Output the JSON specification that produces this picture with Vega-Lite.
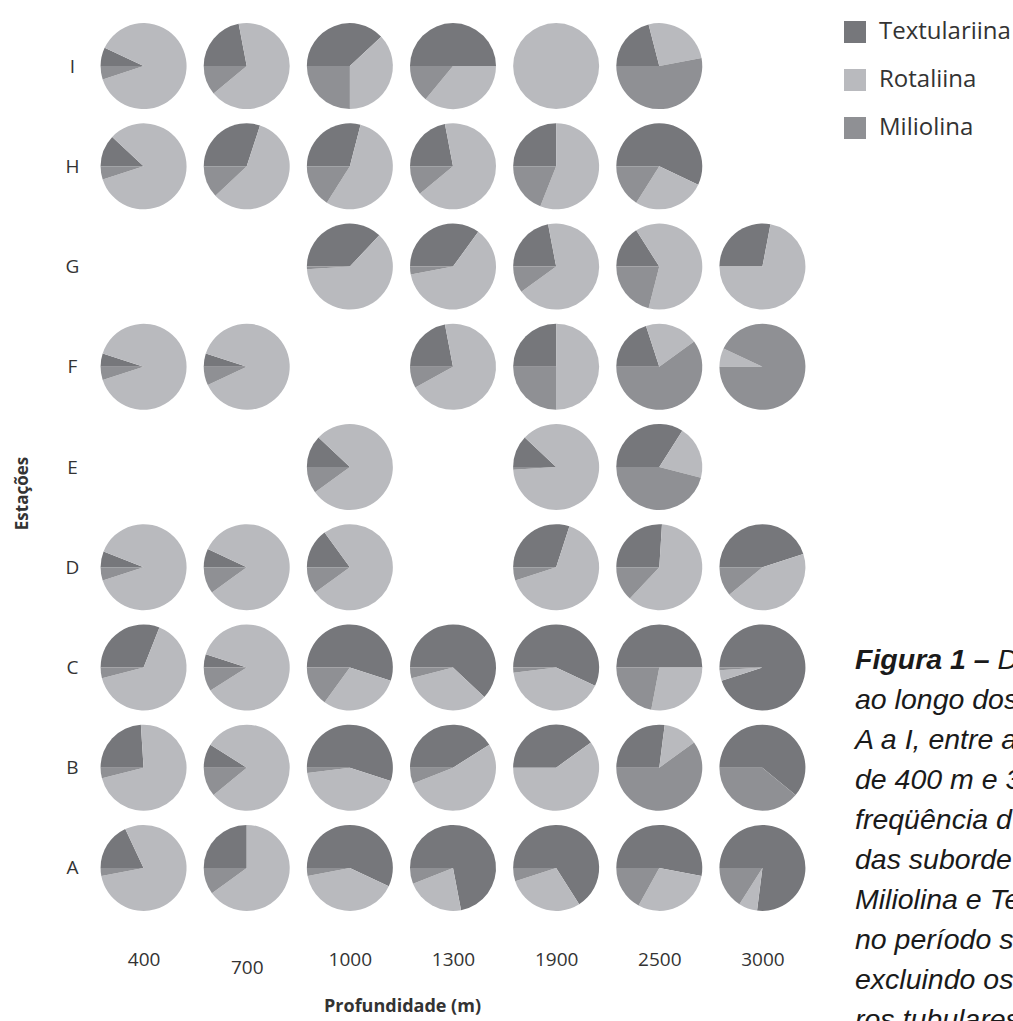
{
  "$schema": "https://vega.github.io/schema/vega-lite/v6.json",
  "autosize": {"type": "none"},
  "padding": {"left": 92, "top": 16, "right": 199, "bottom": 103},
  "width": 722,
  "height": 902,
  "background": "white",
  "config": {"view": {"stroke": null}},
  "title": {
    "text": "Figura 1 –",
    "subtitle": ["\u200b\u00a0\u00a0\u00a0\u00a0\u00a0\u00a0\u00a0\u00a0\u00a0\u00a0\u00a0\u00a0\u00a0\u00a0\u00a0\u00a0\u00a0\u00a0D", "ao longo dos", "A a I, entre a", "de 400 m e 3", "freqüência d", "das suborde", "Miliolina e Te", "no período s", "excluindo os", "ros tubulares"],
    "orient": "top",
    "anchor": "start",
    "frame": "group",
    "dx": 763,
    "dy": 1022,
    "font": "Liberation Sans",
    "fontSize": 28.5,
    "fontStyle": "italic",
    "fontWeight": "bold",
    "color": "#1a1a1a",
    "subtitleFont": "Liberation Sans",
    "subtitleFontSize": 28.5,
    "subtitleFontStyle": "italic",
    "subtitleFontWeight": "normal",
    "subtitleColor": "#1a1a1a",
    "subtitleLineHeight": 40,
    "subtitlePadding": -28.5
  },
  "data": {"values": [
    {"estacao": "I", "profundidade": 400, "subordem": "Textulariina", "valor": 7},
    {"estacao": "I", "profundidade": 400, "subordem": "Rotaliina", "valor": 88},
    {"estacao": "I", "profundidade": 400, "subordem": "Miliolina", "valor": 5},
    {"estacao": "I", "profundidade": 700, "subordem": "Textulariina", "valor": 22},
    {"estacao": "I", "profundidade": 700, "subordem": "Rotaliina", "valor": 67},
    {"estacao": "I", "profundidade": 700, "subordem": "Miliolina", "valor": 11},
    {"estacao": "I", "profundidade": 1000, "subordem": "Textulariina", "valor": 38},
    {"estacao": "I", "profundidade": 1000, "subordem": "Rotaliina", "valor": 37},
    {"estacao": "I", "profundidade": 1000, "subordem": "Miliolina", "valor": 25},
    {"estacao": "I", "profundidade": 1300, "subordem": "Textulariina", "valor": 50},
    {"estacao": "I", "profundidade": 1300, "subordem": "Rotaliina", "valor": 36},
    {"estacao": "I", "profundidade": 1300, "subordem": "Miliolina", "valor": 14},
    {"estacao": "I", "profundidade": 1900, "subordem": "Rotaliina", "valor": 100},
    {"estacao": "I", "profundidade": 2500, "subordem": "Textulariina", "valor": 21},
    {"estacao": "I", "profundidade": 2500, "subordem": "Rotaliina", "valor": 26},
    {"estacao": "I", "profundidade": 2500, "subordem": "Miliolina", "valor": 53},

    {"estacao": "H", "profundidade": 400, "subordem": "Textulariina", "valor": 12},
    {"estacao": "H", "profundidade": 400, "subordem": "Rotaliina", "valor": 83},
    {"estacao": "H", "profundidade": 400, "subordem": "Miliolina", "valor": 5},
    {"estacao": "H", "profundidade": 700, "subordem": "Textulariina", "valor": 30},
    {"estacao": "H", "profundidade": 700, "subordem": "Rotaliina", "valor": 58},
    {"estacao": "H", "profundidade": 700, "subordem": "Miliolina", "valor": 12},
    {"estacao": "H", "profundidade": 1000, "subordem": "Textulariina", "valor": 29},
    {"estacao": "H", "profundidade": 1000, "subordem": "Rotaliina", "valor": 55},
    {"estacao": "H", "profundidade": 1000, "subordem": "Miliolina", "valor": 16},
    {"estacao": "H", "profundidade": 1300, "subordem": "Textulariina", "valor": 22},
    {"estacao": "H", "profundidade": 1300, "subordem": "Rotaliina", "valor": 67},
    {"estacao": "H", "profundidade": 1300, "subordem": "Miliolina", "valor": 11},
    {"estacao": "H", "profundidade": 1900, "subordem": "Textulariina", "valor": 25},
    {"estacao": "H", "profundidade": 1900, "subordem": "Rotaliina", "valor": 56},
    {"estacao": "H", "profundidade": 1900, "subordem": "Miliolina", "valor": 19},
    {"estacao": "H", "profundidade": 2500, "subordem": "Textulariina", "valor": 57},
    {"estacao": "H", "profundidade": 2500, "subordem": "Rotaliina", "valor": 27},
    {"estacao": "H", "profundidade": 2500, "subordem": "Miliolina", "valor": 16},

    {"estacao": "G", "profundidade": 1000, "subordem": "Textulariina", "valor": 37},
    {"estacao": "G", "profundidade": 1000, "subordem": "Rotaliina", "valor": 62},
    {"estacao": "G", "profundidade": 1000, "subordem": "Miliolina", "valor": 1},
    {"estacao": "G", "profundidade": 1300, "subordem": "Textulariina", "valor": 35},
    {"estacao": "G", "profundidade": 1300, "subordem": "Rotaliina", "valor": 62},
    {"estacao": "G", "profundidade": 1300, "subordem": "Miliolina", "valor": 3},
    {"estacao": "G", "profundidade": 1900, "subordem": "Textulariina", "valor": 22},
    {"estacao": "G", "profundidade": 1900, "subordem": "Rotaliina", "valor": 68},
    {"estacao": "G", "profundidade": 1900, "subordem": "Miliolina", "valor": 10},
    {"estacao": "G", "profundidade": 2500, "subordem": "Textulariina", "valor": 16},
    {"estacao": "G", "profundidade": 2500, "subordem": "Rotaliina", "valor": 63},
    {"estacao": "G", "profundidade": 2500, "subordem": "Miliolina", "valor": 21},
    {"estacao": "G", "profundidade": 3000, "subordem": "Textulariina", "valor": 28},
    {"estacao": "G", "profundidade": 3000, "subordem": "Rotaliina", "valor": 72},

    {"estacao": "F", "profundidade": 400, "subordem": "Textulariina", "valor": 5},
    {"estacao": "F", "profundidade": 400, "subordem": "Rotaliina", "valor": 90},
    {"estacao": "F", "profundidade": 400, "subordem": "Miliolina", "valor": 5},
    {"estacao": "F", "profundidade": 700, "subordem": "Textulariina", "valor": 5},
    {"estacao": "F", "profundidade": 700, "subordem": "Rotaliina", "valor": 88},
    {"estacao": "F", "profundidade": 700, "subordem": "Miliolina", "valor": 7},
    {"estacao": "F", "profundidade": 1300, "subordem": "Textulariina", "valor": 22},
    {"estacao": "F", "profundidade": 1300, "subordem": "Rotaliina", "valor": 70},
    {"estacao": "F", "profundidade": 1300, "subordem": "Miliolina", "valor": 8},
    {"estacao": "F", "profundidade": 1900, "subordem": "Textulariina", "valor": 25},
    {"estacao": "F", "profundidade": 1900, "subordem": "Rotaliina", "valor": 50},
    {"estacao": "F", "profundidade": 1900, "subordem": "Miliolina", "valor": 25},
    {"estacao": "F", "profundidade": 2500, "subordem": "Textulariina", "valor": 20},
    {"estacao": "F", "profundidade": 2500, "subordem": "Rotaliina", "valor": 20},
    {"estacao": "F", "profundidade": 2500, "subordem": "Miliolina", "valor": 60},
    {"estacao": "F", "profundidade": 3000, "subordem": "Rotaliina", "valor": 7},
    {"estacao": "F", "profundidade": 3000, "subordem": "Miliolina", "valor": 93},

    {"estacao": "E", "profundidade": 1000, "subordem": "Textulariina", "valor": 12},
    {"estacao": "E", "profundidade": 1000, "subordem": "Rotaliina", "valor": 78},
    {"estacao": "E", "profundidade": 1000, "subordem": "Miliolina", "valor": 10},
    {"estacao": "E", "profundidade": 1900, "subordem": "Textulariina", "valor": 12},
    {"estacao": "E", "profundidade": 1900, "subordem": "Rotaliina", "valor": 87},
    {"estacao": "E", "profundidade": 1900, "subordem": "Miliolina", "valor": 1},
    {"estacao": "E", "profundidade": 2500, "subordem": "Textulariina", "valor": 34},
    {"estacao": "E", "profundidade": 2500, "subordem": "Rotaliina", "valor": 20},
    {"estacao": "E", "profundidade": 2500, "subordem": "Miliolina", "valor": 46},

    {"estacao": "D", "profundidade": 400, "subordem": "Textulariina", "valor": 6},
    {"estacao": "D", "profundidade": 400, "subordem": "Rotaliina", "valor": 89},
    {"estacao": "D", "profundidade": 400, "subordem": "Miliolina", "valor": 5},
    {"estacao": "D", "profundidade": 700, "subordem": "Textulariina", "valor": 7},
    {"estacao": "D", "profundidade": 700, "subordem": "Rotaliina", "valor": 83},
    {"estacao": "D", "profundidade": 700, "subordem": "Miliolina", "valor": 10},
    {"estacao": "D", "profundidade": 1000, "subordem": "Textulariina", "valor": 15},
    {"estacao": "D", "profundidade": 1000, "subordem": "Rotaliina", "valor": 75},
    {"estacao": "D", "profundidade": 1000, "subordem": "Miliolina", "valor": 10},
    {"estacao": "D", "profundidade": 1900, "subordem": "Textulariina", "valor": 30},
    {"estacao": "D", "profundidade": 1900, "subordem": "Rotaliina", "valor": 65},
    {"estacao": "D", "profundidade": 1900, "subordem": "Miliolina", "valor": 5},
    {"estacao": "D", "profundidade": 2500, "subordem": "Textulariina", "valor": 26},
    {"estacao": "D", "profundidade": 2500, "subordem": "Rotaliina", "valor": 61},
    {"estacao": "D", "profundidade": 2500, "subordem": "Miliolina", "valor": 13},
    {"estacao": "D", "profundidade": 3000, "subordem": "Textulariina", "valor": 45},
    {"estacao": "D", "profundidade": 3000, "subordem": "Rotaliina", "valor": 44},
    {"estacao": "D", "profundidade": 3000, "subordem": "Miliolina", "valor": 11},

    {"estacao": "C", "profundidade": 400, "subordem": "Textulariina", "valor": 31},
    {"estacao": "C", "profundidade": 400, "subordem": "Rotaliina", "valor": 65},
    {"estacao": "C", "profundidade": 400, "subordem": "Miliolina", "valor": 4},
    {"estacao": "C", "profundidade": 700, "subordem": "Textulariina", "valor": 5},
    {"estacao": "C", "profundidade": 700, "subordem": "Rotaliina", "valor": 86},
    {"estacao": "C", "profundidade": 700, "subordem": "Miliolina", "valor": 9},
    {"estacao": "C", "profundidade": 1000, "subordem": "Textulariina", "valor": 55},
    {"estacao": "C", "profundidade": 1000, "subordem": "Rotaliina", "valor": 30},
    {"estacao": "C", "profundidade": 1000, "subordem": "Miliolina", "valor": 15},
    {"estacao": "C", "profundidade": 1300, "subordem": "Textulariina", "valor": 62},
    {"estacao": "C", "profundidade": 1300, "subordem": "Rotaliina", "valor": 34},
    {"estacao": "C", "profundidade": 1300, "subordem": "Miliolina", "valor": 4},
    {"estacao": "C", "profundidade": 1900, "subordem": "Textulariina", "valor": 57},
    {"estacao": "C", "profundidade": 1900, "subordem": "Rotaliina", "valor": 41},
    {"estacao": "C", "profundidade": 1900, "subordem": "Miliolina", "valor": 2},
    {"estacao": "C", "profundidade": 2500, "subordem": "Textulariina", "valor": 50},
    {"estacao": "C", "profundidade": 2500, "subordem": "Rotaliina", "valor": 28},
    {"estacao": "C", "profundidade": 2500, "subordem": "Miliolina", "valor": 22},
    {"estacao": "C", "profundidade": 3000, "subordem": "Textulariina", "valor": 95},
    {"estacao": "C", "profundidade": 3000, "subordem": "Rotaliina", "valor": 4},
    {"estacao": "C", "profundidade": 3000, "subordem": "Miliolina", "valor": 1},

    {"estacao": "B", "profundidade": 400, "subordem": "Textulariina", "valor": 24},
    {"estacao": "B", "profundidade": 400, "subordem": "Rotaliina", "valor": 72},
    {"estacao": "B", "profundidade": 400, "subordem": "Miliolina", "valor": 4},
    {"estacao": "B", "profundidade": 700, "subordem": "Textulariina", "valor": 9},
    {"estacao": "B", "profundidade": 700, "subordem": "Rotaliina", "valor": 80},
    {"estacao": "B", "profundidade": 700, "subordem": "Miliolina", "valor": 11},
    {"estacao": "B", "profundidade": 1000, "subordem": "Textulariina", "valor": 55},
    {"estacao": "B", "profundidade": 1000, "subordem": "Rotaliina", "valor": 43},
    {"estacao": "B", "profundidade": 1000, "subordem": "Miliolina", "valor": 2},
    {"estacao": "B", "profundidade": 1300, "subordem": "Textulariina", "valor": 41},
    {"estacao": "B", "profundidade": 1300, "subordem": "Rotaliina", "valor": 53},
    {"estacao": "B", "profundidade": 1300, "subordem": "Miliolina", "valor": 6},
    {"estacao": "B", "profundidade": 1900, "subordem": "Textulariina", "valor": 40},
    {"estacao": "B", "profundidade": 1900, "subordem": "Rotaliina", "valor": 60},
    {"estacao": "B", "profundidade": 2500, "subordem": "Textulariina", "valor": 27},
    {"estacao": "B", "profundidade": 2500, "subordem": "Rotaliina", "valor": 13},
    {"estacao": "B", "profundidade": 2500, "subordem": "Miliolina", "valor": 60},
    {"estacao": "B", "profundidade": 3000, "subordem": "Textulariina", "valor": 61},
    {"estacao": "B", "profundidade": 3000, "subordem": "Miliolina", "valor": 39},

    {"estacao": "A", "profundidade": 400, "subordem": "Textulariina", "valor": 18},
    {"estacao": "A", "profundidade": 400, "subordem": "Rotaliina", "valor": 79},
    {"estacao": "A", "profundidade": 400, "subordem": "Miliolina", "valor": 3},
    {"estacao": "A", "profundidade": 700, "subordem": "Textulariina", "valor": 25},
    {"estacao": "A", "profundidade": 700, "subordem": "Rotaliina", "valor": 65},
    {"estacao": "A", "profundidade": 700, "subordem": "Miliolina", "valor": 10},
    {"estacao": "A", "profundidade": 1000, "subordem": "Textulariina", "valor": 57},
    {"estacao": "A", "profundidade": 1000, "subordem": "Rotaliina", "valor": 40},
    {"estacao": "A", "profundidade": 1000, "subordem": "Miliolina", "valor": 3},
    {"estacao": "A", "profundidade": 1300, "subordem": "Textulariina", "valor": 72},
    {"estacao": "A", "profundidade": 1300, "subordem": "Rotaliina", "valor": 22},
    {"estacao": "A", "profundidade": 1300, "subordem": "Miliolina", "valor": 6},
    {"estacao": "A", "profundidade": 1900, "subordem": "Textulariina", "valor": 66},
    {"estacao": "A", "profundidade": 1900, "subordem": "Rotaliina", "valor": 29},
    {"estacao": "A", "profundidade": 1900, "subordem": "Miliolina", "valor": 5},
    {"estacao": "A", "profundidade": 2500, "subordem": "Textulariina", "valor": 53},
    {"estacao": "A", "profundidade": 2500, "subordem": "Rotaliina", "valor": 30},
    {"estacao": "A", "profundidade": 2500, "subordem": "Miliolina", "valor": 17},
    {"estacao": "A", "profundidade": 3000, "subordem": "Textulariina", "valor": 77},
    {"estacao": "A", "profundidade": 3000, "subordem": "Rotaliina", "valor": 7},
    {"estacao": "A", "profundidade": 3000, "subordem": "Miliolina", "valor": 16}
  ]},
  "transform": [
    {"stack": "valor", "groupby": ["estacao", "profundidade"], "sort": [{"field": "subordem", "order": "descending"}], "offset": "normalize", "as": ["a0", "a1"]}
  ],
  "mark": {"type": "arc", "radius": 43, "strokeWidth": 0},
  "encoding": {
    "x": {
      "field": "profundidade", "type": "ordinal",
      "scale": {"type": "point", "padding": 0.5},
      "axis": {
        "title": "Profundidade (m)", "domain": false, "ticks": false, "tickSize": 0,
        "labelAngle": 0, "labelFont": "Open Sans", "labelFontSize": 19, "labelColor": "#333333",
        "labelPadding": {"condition": {"test": "datum.value == 700", "value": 40}, "value": 32},
        "titleFont": "Open Sans", "titleFontSize": 18, "titleFontWeight": "bold", "titleColor": "#333333",
        "titleX": 310, "titleY": 88, "titleAlign": "center", "titleBaseline": "middle", "titleAnchor": null
      }
    },
    "y": {
      "field": "estacao", "type": "ordinal", "sort": "descending",
      "scale": {"type": "point", "padding": 0.5},
      "axis": {
        "title": "Estações", "domain": false, "ticks": false, "tickSize": 0,
        "labelFont": "Open Sans", "labelFontSize": 19, "labelColor": "#333333",
        "labelAlign": "center", "labelPadding": 20,
        "titleFont": "Open Sans", "titleFontSize": 17, "titleFontWeight": "bold", "titleColor": "#333333",
        "titleX": -70, "titleY": 477, "titleAngle": -90, "titleAlign": "center", "titleBaseline": "middle"
      }
    },
    "theta": {"field": "a0", "type": "quantitative", "stack": null, "scale": {"type": "linear", "domain": [0, 1], "range": [4.712389, 10.995574]}},
    "theta2": {"field": "a1"},
    "color": {
      "field": "subordem", "type": "nominal",
      "scale": {"domain": ["Textulariina", "Rotaliina", "Miliolina"], "range": ["#76777b", "#b9babe", "#8f9094"]},
      "legend": {
        "orient": "none", "legendX": 751, "legendY": 4, "title": null, "padding": 0,
        "symbolType": "square", "symbolSize": 484, "symbolStrokeWidth": 0, "symbolOpacity": 1,
        "labelFont": "Open Sans", "labelFontSize": 24, "labelColor": "#333333", "labelOffset": 12,
        "rowPadding": 24
      }
    }
  }
}
